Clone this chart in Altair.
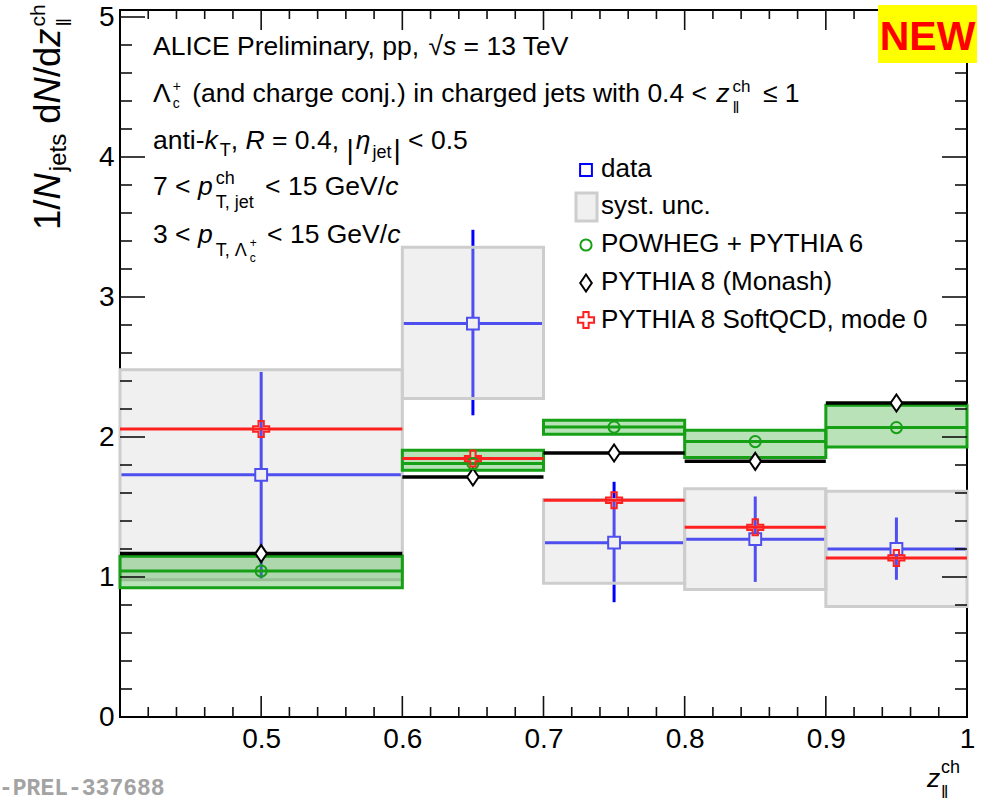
import altair as alt
import pandas as pd

FONT = "Liberation Sans"
MONO = "Liberation Mono"

# ---------------- data ----------------
bin_lo = [0.4, 0.6, 0.7, 0.8, 0.9]
bin_hi = [0.6, 0.7, 0.8, 0.9, 1.0]
bin_ctr = [0.5, 0.65, 0.75, 0.85, 0.95]
data_val = [1.73, 2.81, 1.245, 1.27, 1.20]
stat_lo = [0.98, 2.155, 0.82, 0.965, 0.98]
stat_hi = [2.465, 3.48, 1.68, 1.575, 1.425]
syst_lo = [0.98, 2.275, 0.955, 0.91, 0.79]
syst_hi = [2.48, 3.355, 1.553, 1.63, 1.612]
powheg = [1.043, 1.81, 2.071, 1.967, 2.067]
powheg_lo = [0.924, 1.762, 2.02, 1.853, 1.929]
powheg_hi = [1.148, 1.905, 2.12, 2.048, 2.226]
monash = [1.167, 1.714, 1.886, 1.826, 2.243]
softqcd = [2.057, 1.846, 1.548, 1.355, 1.136]

x_labels = [0.5, 0.6, 0.7, 0.8, 0.9, 1.0]
y_labels = [0, 1, 2, 3, 4, 5]
x_major = [0.5, 0.6, 0.7, 0.8, 0.9]
x_minor = [0.42, 0.44, 0.46, 0.48, 0.52, 0.54, 0.56, 0.58, 0.62, 0.64, 0.66, 0.68,
           0.72, 0.74, 0.76, 0.78, 0.82, 0.84, 0.86, 0.88, 0.92, 0.94, 0.96, 0.98]
y_major = [1, 2, 3, 4, 5]
y_minor = [0.2, 0.4, 0.6, 0.8, 1.2, 1.4, 1.6, 1.8, 2.2, 2.4, 2.6, 2.8,
           3.2, 3.4, 3.6, 3.8, 4.2, 4.4, 4.6, 4.8]

legend_labels = ["data", "syst. unc.", "POWHEG + PYTHIA 6", "PYTHIA 8 (Monash)",
                 "PYTHIA 8 SoftQCD, mode 0"]

df = pd.DataFrame(dict(lo=bin_lo, hi=bin_hi, ctr=bin_ctr, val=data_val,
                       slo=stat_lo, shi=stat_hi, ylo=syst_lo, yhi=syst_hi,
                       pw=powheg, pwlo=powheg_lo, pwhi=powheg_hi,
                       mo=monash, sq=softqcd))

# ---------------- layout ----------------
OX, OY = 120, 10          # plot-area origin in the page
W, H = 847, 707
BLUE = "#0000ff"
GREEN = "#16a016"
RED = "#ff2020"
BLACK = "#000000"

xs = alt.Scale(domain=[0.4, 1.0], nice=False, zero=False)
ys = alt.Scale(domain=[0, 5.05], nice=False, zero=False)
XAX = alt.Axis(values=x_labels, format="~g", title="", labelFont=FONT, labelFontSize=28,
               labelColor="black", labelPadding=8, ticks=False, tickSize=0, domain=False,
               grid=False, labelFlush=False, labelOverlap=False)
YAX = alt.Axis(values=y_labels, format="d", title="", labelFont=FONT, labelFontSize=28,
               labelColor="black", labelPadding=6, ticks=False, tickSize=0, domain=False,
               grid=False, labelFlush=False, labelOverlap=False)


def X(f):
    return alt.X(f, type="quantitative", scale=xs, axis=XAX)


def Y(f):
    return alt.Y(f, type="quantitative", scale=ys, axis=YAX)


base = alt.Chart(df)
layers = []

# data: stat. error bars and markers (under the translucent syst. boxes)
layers.append(base.mark_rule(color=BLUE, strokeWidth=3).encode(x=X("lo"), x2="hi", y=Y("val")))
layers.append(base.mark_rule(color=BLUE, strokeWidth=3).encode(x=X("ctr"), y=Y("slo"), y2="shi"))
layers.append(base.mark_point(shape="square", size=140, filled=True, fill="white", stroke=BLUE,
                              strokeWidth=2, opacity=1).encode(x=X("ctr"), y=Y("val")))
# syst. boxes
layers.append(base.mark_rect(fill="#d6d6d6", fillOpacity=0.37, stroke="#cdcdcd", strokeWidth=3)
              .encode(x=X("lo"), x2="hi", y=Y("ylo"), y2="yhi"))
# POWHEG band
layers.append(base.mark_rect(fill=GREEN, fillOpacity=0.3, stroke=GREEN, strokeWidth=3)
              .encode(x=X("lo"), x2="hi", y=Y("pwlo"), y2="pwhi"))
# model lines
layers.append(base.mark_rule(color=BLACK, strokeWidth=3.5).encode(x=X("lo"), x2="hi", y=Y("mo")))
layers.append(base.mark_rule(color=GREEN, strokeWidth=3).encode(x=X("lo"), x2="hi", y=Y("pw")))
layers.append(base.mark_rule(color=RED, strokeWidth=3).encode(x=X("lo"), x2="hi", y=Y("sq")))

DIAMOND = "M0,-1L0.68,0L0,1L-0.68,0Z"
CROSS = ("M-0.33,-1L0.33,-1L0.33,-0.33L1,-0.33L1,0.33L0.33,0.33L0.33,1L-0.33,1L-0.33,0.33"
         "L-1,0.33L-1,-0.33L-0.33,-0.33Z")

layers.append(base.mark_point(shape=DIAMOND, size=290, filled=True, fill="white", stroke=BLACK,
                              strokeWidth=2, opacity=1).encode(x=X("ctr"), y=Y("mo")))
layers.append(base.mark_point(shape="circle", size=125, filled=False, color=GREEN,
                              strokeWidth=2, opacity=1).encode(x=X("ctr"), y=Y("pw")))
layers.append(base.mark_point(shape=CROSS, size=260, filled=False, color=RED,
                              strokeWidth=2, opacity=1).encode(x=X("ctr"), y=Y("sq")))

# ---------------- inward ticks on all four sides ----------------
xmaj = alt.Chart(pd.DataFrame({"v": x_major}))
xmin = alt.Chart(pd.DataFrame({"v": x_minor}))
ymaj = alt.Chart(pd.DataFrame({"v": y_major}))
ymin = alt.Chart(pd.DataFrame({"v": y_minor}))
TK = dict(color="#111111", strokeWidth=1.6)
layers += [
    xmaj.mark_rule(**TK).encode(x=X("v"), y=alt.value(H), y2=alt.value(H - 21)),
    xmin.mark_rule(**TK).encode(x=X("v"), y=alt.value(H), y2=alt.value(H - 10)),
    xmaj.mark_rule(**TK).encode(x=X("v"), y=alt.value(0), y2=alt.value(20)),
    xmin.mark_rule(**TK).encode(x=X("v"), y=alt.value(0), y2=alt.value(9)),
    ymaj.mark_rule(**TK).encode(y=Y("v"), x=alt.value(0), x2=alt.value(25)),
    ymin.mark_rule(**TK).encode(y=Y("v"), x=alt.value(0), x2=alt.value(12)),
    ymaj.mark_rule(**TK).encode(y=Y("v"), x=alt.value(W), x2=alt.value(W - 25)),
    ymin.mark_rule(**TK).encode(y=Y("v"), x=alt.value(W), x2=alt.value(W - 12)),
]

# ---------------- text helpers ----------------
ONE = pd.DataFrame({"a": [0]})
CW = {" ": 278, "!": 278, "(": 333, ")": 333, "+": 584, ",": 278, "-": 333, ".": 278, "/": 278,
      "<": 584, "=": 584, ">": 584, "|": 260, "\u2264": 549, "\u221a": 549, "\u039b": 667,
      "\u03b7": 556, "\u2016": 420,
      "A": 667, "B": 667, "C": 722, "D": 722, "E": 667, "F": 611, "G": 778, "H": 722, "I": 278,
      "J": 500, "K": 667, "L": 556, "M": 833, "N": 722, "O": 778, "P": 667, "Q": 778, "R": 722,
      "S": 667, "T": 611, "U": 722, "V": 667, "W": 944, "X": 667, "Y": 667, "Z": 611,
      "a": 556, "b": 556, "c": 500, "d": 556, "e": 556, "f": 278, "g": 556, "h": 556, "i": 222,
      "j": 222, "k": 500, "l": 222, "m": 833, "n": 556, "o": 556, "p": 556, "q": 556, "r": 333,
      "s": 500, "t": 278, "u": 556, "v": 500, "w": 722, "x": 500, "y": 500, "z": 500}


def tw(s, size):
    return max(sum(CW.get(c, 556) for c in part) for part in s.split("\n")) / 1000.0 * size


def text_layer(px, py, t, size, italic=False, bold=False, angle=0, color="black", font=FONT,
               align="left", lh=None):
    kw = dict(align=align, baseline="alphabetic", font=font, fontSize=size, color=color,
              fontStyle="italic" if italic else "normal",
              fontWeight="bold" if bold else "normal")
    if angle:
        kw["angle"] = angle
    if lh:
        kw["lineBreak"] = "\n"
        kw["lineHeight"] = lh
    return alt.Chart(ONE).mark_text(**kw).encode(
        x=alt.value(px - OX), y=alt.value(py - OY), text=alt.value(t))


BASE = 26.5


def S(t, size=BASE, it=False, dy=0, pad=0, lh=None):
    return dict(t=t, size=size, it=it, dy=dy, pad=pad, lh=lh)


def line(x0, y0, segs, angle=0):
    """Lay out styled text pieces one after the other; a piece with lh is a
    superscript/subscript pair stacked on two lines."""
    out = []
    cur = 0.0
    for s in segs:
        t, size = s["t"], s["size"]
        start = cur + s["pad"]
        lead = len(t) - len(t.lstrip(" "))
        end = start + tw(t, size)
        draw = t.strip(" ")
        off = start + tw(" " * lead, size)
        if angle == 0:
            px, py = x0 + off, y0 + s["dy"]
        else:
            px, py = x0 + s["dy"], y0 - off
        if draw:
            out.append(text_layer(px, py, draw, size, italic=s["it"], angle=angle, lh=s["lh"]))
        cur = end
    return out


SUB = 18
layers += line(153, 55, [S("ALICE Preliminary, pp, "), S("\u221a"), S("s", it=True), S(" = 13 TeV")])
layers += line(153, 101.7, [S("\u039b"), S("+\nc", 14, dy=-11, pad=2, lh=17),
                            S(" (and charge conj.) in charged jets with 0.4 < ", pad=4),
                            S("z", it=True, pad=2), S("ch\n\u2016", 17, dy=-10, pad=3, lh=21),
                            S(" \u2264 1", pad=5)])
layers += line(153, 149, [S("anti-"), S("k", it=True), S("T", SUB, dy=7, pad=2), S(", "),
                          S("R", it=True), S(" = 0.4, "), S("|", 28, dy=10),
                          S("\u03b7", it=True, pad=2), S("jet", SUB, dy=9, pad=2),
                          S("|", 28, dy=10, pad=2), S(" < 0.5")])
layers += line(153, 195, [S("7 < "), S("p", it=True), S("ch\nT, jet", SUB, dy=-11, pad=3, lh=24),
                          S(" < 15 GeV/", pad=2), S("c", it=True)])
layers += line(153, 242.7, [S("3 < "), S("p", it=True), S("T, \u039b", SUB, dy=13, pad=3),
                            S("+\nc", 12, dy=4, pad=1, lh=15),
                            S(" < 15 GeV/", pad=3), S("c", it=True)])

# y-axis title (rotated)
YT = 36.5
layers += line(60, 230, [S("1/", YT), S("N", YT, it=True), S("jets", 24, dy=6, pad=2),
                         S(" d", YT), S("N", YT, it=True), S("/d", YT), S("z", YT, it=True),
                         S("ch\n\u2016", 21, dy=-15, pad=2, lh=26)], angle=270)

# x-axis title
layers.append(text_layer(927, 787, "z", 26.5, italic=True))
layers.append(text_layer(941, 773, "ch\n\u2016", 18, lh=25))

# ---------------- legend ----------------
LX, TX = 586, 601
mark_y = [170, 207, 245, 283, 320]
text_y = [176.7, 214, 251.7, 290, 327.7]
for lab, ty in zip(legend_labels, text_y):
    layers.append(text_layer(TX, ty, lab, 26))
one = alt.Chart(ONE)
layers.append(one.mark_point(shape="square", size=140, filled=True, fill="white", stroke=BLUE,
                             strokeWidth=2, opacity=1)
              .encode(x=alt.value(LX - OX), y=alt.value(mark_y[0] - OY)))
layers.append(one.mark_rect(fill="#f0f0f0", stroke="#cdcdcd", strokeWidth=3)
              .encode(x=alt.value(576 - OX), x2=alt.value(597 - OX),
                      y=alt.value(193 - OY), y2=alt.value(221 - OY)))
layers.append(one.mark_point(shape="circle", size=125, filled=False, color=GREEN, strokeWidth=2,
                             opacity=1).encode(x=alt.value(LX - OX), y=alt.value(mark_y[2] - OY)))
layers.append(one.mark_point(shape=DIAMOND, size=290, filled=True, fill="white", stroke=BLACK,
                             strokeWidth=2, opacity=1)
              .encode(x=alt.value(LX - OX), y=alt.value(mark_y[3] - OY)))
layers.append(one.mark_point(shape=CROSS, size=260, filled=False, color=RED, strokeWidth=2,
                             opacity=1).encode(x=alt.value(LX - OX), y=alt.value(mark_y[4] - OY)))

# ---------------- NEW badge and watermark ----------------
layers.append(one.mark_rect(fill="#ffff00").encode(
    x=alt.value(878 - OX), x2=alt.value(977 - OX), y=alt.value(5 - OY), y2=alt.value(63 - OY)))
layers.append(text_layer(927.5, 50, "NEW", 41, bold=True, color="#ff0000", align="center"))
layers.append(text_layer(-1, 795, "-PREL-337688", 23, bold=True, color="#a3a3a3", font=MONO))

chart = (alt.layer(*layers)
         .properties(width=W, height=H, autosize=alt.AutoSizeParams(type="none"),
                     padding={"left": OX, "top": OY, "right": 989 - OX - W, "bottom": 803 - OY - H})
         .configure_view(stroke="black", strokeWidth=2)
         .configure_axis(grid=False, domain=False, ticks=False))

chart.save("out.html", embed_options={"renderer": "svg", "actions": False})
